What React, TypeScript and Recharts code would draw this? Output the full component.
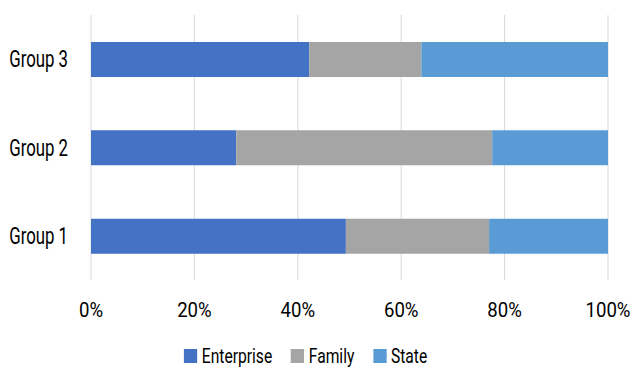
import { BarChart, Bar, XAxis, YAxis, CartesianGrid, Legend } from 'recharts';

const groups = ['Group 1', 'Group 2', 'Group 3'];
const enterprise = [49.3, 28.1, 42.2];
const family = [27.7, 49.5, 21.7];
const state = [23.0, 22.4, 36.1];
const xTicks = [0, 20, 40, 60, 80, 100];

const seriesInfo = [
  { key: 'enterprise', name: 'Enterprise', color: '#4472C4' },
  { key: 'family', name: 'Family', color: '#A5A5A5' },
  { key: 'state', name: 'State', color: '#5B9BD5' },
];

const data = groups.map((g, i) => ({
  group: g,
  enterprise: enterprise[i],
  family: family[i],
  state: state[i],
}));

const font = 'Roboto, "Noto Sans", sans-serif';

// the reference uses a condensed face, so squeeze Roboto horizontally
function GroupTick(props: any) {
  const { x, y, payload } = props;
  return (
    <g transform={`translate(${x},${y})`}>
      <text transform="scale(0.73,1)" textAnchor="end" dy="0.35em" fontFamily={font} fontSize={23} fill="#000">
        {payload.value}
      </text>
    </g>
  );
}

function PctTick(props: any) {
  const { x, y, payload } = props;
  return (
    <g transform={`translate(${x},${y})`}>
      <text transform="scale(0.93,1)" textAnchor="middle" dy="0.71em" fontFamily={font} fontSize={20} fill="#000">
        {`${payload.value}%`}
      </text>
    </g>
  );
}

function LegendRow() {
  return (
    <div style={{ display: 'flex', justifyContent: 'center', transform: 'scale(0.78,1)', paddingLeft: '4px', lineHeight: '20px', position: 'relative', top: '4px' }}>
      <div style={{ display: 'flex', alignItems: 'center', fontFamily: font, fontSize: '20px', color: '#000' }}>
        {seriesInfo.map((s, i) => (
          <div key={s.key} style={{ display: 'flex', alignItems: 'center', marginRight: i < seriesInfo.length - 1 ? '24px' : 0 }}>
            <span style={{ display: 'inline-block', width: '17px', height: '14px', background: s.color, marginRight: '6px' }} />
            <span>{s.name}</span>
          </div>
        ))}
      </div>
    </div>
  );
}

export default function App() {
  return (
    <div style={{ position: 'absolute', left: 0, top: 0, background: '#fff' }}>
      <BarChart
        width={632}
        height={367}
        data={data}
        layout="vertical"
        margin={{ top: 15, right: 24, bottom: 0, left: 0 }}
      >
        <CartesianGrid horizontal={false} stroke="#d9d9d9" strokeWidth={1} />
        <XAxis
          type="number"
          domain={[0, 100]}
          ticks={xTicks}
          axisLine={false}
          tickLine={false}
          tickMargin={17}
          height={62}
          tick={<PctTick />}
          interval={0}
        />
        <YAxis
          type="category"
          dataKey="group"
          reversed
          width={91}
          axisLine={false}
          tickLine={false}
          tickMargin={17}
          tick={<GroupTick />}
        />
        {seriesInfo.map((s) => (
          <Bar
            key={s.key}
            dataKey={s.key}
            name={s.name}
            stackId="a"
            fill={s.color}
            barSize={35}
            isAnimationActive={false}
          />
        ))}
        <Legend verticalAlign="bottom" height={25} content={() => <LegendRow />} />
      </BarChart>
    </div>
  );
}
